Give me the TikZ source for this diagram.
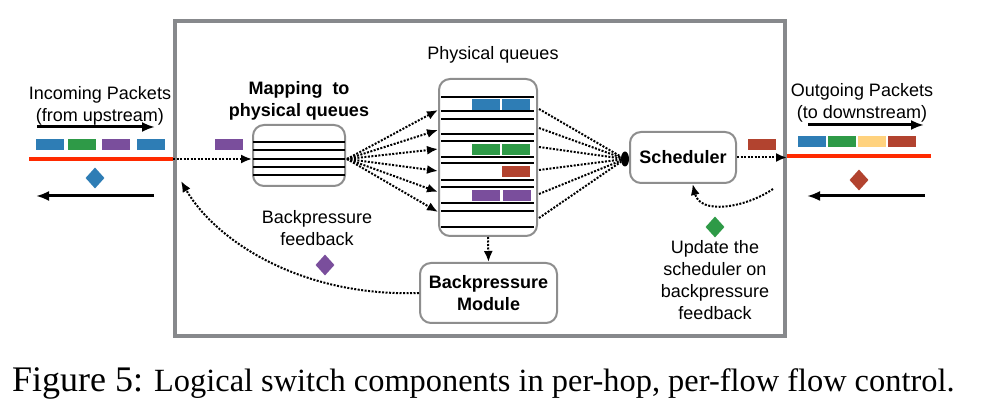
\documentclass[tikz,border=0pt]{standalone}
\usepackage{fontspec}
\setmainfont{Liberation Serif}
\setsansfont{Liberation Sans}
\usetikzlibrary{arrows.meta,shapes.geometric}

\definecolor{pktblue}{HTML}{2E7DB5}
\definecolor{pktgreen}{HTML}{2E9A47}
\definecolor{pktpurple}{HTML}{7A4E9C}
\definecolor{pktred}{HTML}{B2432F}
\definecolor{pktyellow}{HTML}{FFD27E}
\definecolor{wirered}{HTML}{FF2A00}
\definecolor{framegray}{HTML}{87898C}
\definecolor{boxgray}{HTML}{8E8E8E}

\tikzset{
  lbl/.style={font=\sffamily\fontsize{18}{22}\selectfont, align=center, inner sep=0pt},
  boldlbl/.style={lbl, font=\sffamily\bfseries\fontsize{18}{22}\selectfont},
  box/.style={draw=boxgray, line width=2pt, rounded corners=11pt, fill=white},
  pkt/.style={minimum width=28pt, minimum height=11pt, inner sep=0pt, fill=#1},
  token/.style={diamond, fill=#1, minimum width=19pt, minimum height=21pt, inner sep=0pt},
  qline/.style={line width=2.6pt},
  wire/.style={line width=3pt, -{Latex[length=13pt,width=10pt]}},
  redline/.style={line width=4pt, wirered},
  flow/.style={line width=2pt, dash pattern=on 2pt off 1.5pt, -{Latex[length=11pt,width=9pt]}},
  flowplain/.style={line width=2pt, dash pattern=on 2pt off 1.5pt}
}

\begin{document}
\begin{tikzpicture}[x=1pt,y=-1pt]
\useasboundingbox (0,0) rectangle (999,411);

% switch frame
\node (sw) [draw=framegray, line width=4pt, minimum width=610pt, minimum height=315pt, inner sep=0pt] at (480,178.5) {};

% incoming side
\node (inlbl) [lbl] at (100,106) {Incoming Packets\\(from upstream)};
\coordinate (inA) at (37,127);
\coordinate (inB) at (155,127);
\draw[wire] (inA) -- (inB);
\node (in1) [pkt=pktblue] at (50,144.5) {};
\node (in2) [pkt=pktgreen] at (82,144.5) {};
\node (in3) [pkt=pktpurple] at (116,144.5) {};
\node (in4) [pkt=pktblue] at (151,144.5) {};
\coordinate (inL) at (29,159);
\draw[redline] (inL) -- (inL -| sw.west);
\node (intok) [token=pktblue] at (95,178) {};
\coordinate (backA) at (154,196);
\coordinate (backB) at (36,196);
\draw[wire] (backA) -- (backB);

% mapping to physical queues
\node (maplbl) [boldlbl] at (299,101) {Mapping\ \ to\\physical queues};
\node (map) [box, minimum width=92pt, minimum height=61pt] at (299,155.5) {};
\foreach \y in {142,150,159,167,175}
  \draw[qline] (253,\y) -- (345,\y);
\coordinate (mapout) at (347,159);
\node (mappkt) [pkt=pktpurple] at (229,144.5) {};
\draw[flow] (sw.west |- mapout) -- (map.west |- mapout);

% physical queues
\node (pqlbl) [lbl] at (493,55) {Physical queues};
\node (pq) [box, minimum width=98pt, minimum height=157pt] at (488,157.5) {};
\foreach \y in {97,111,119,134,141,157,163,180,187,203,211,227}
  \draw[qline] (441,\y) -- (534,\y);
\node (q1a) [pkt=pktblue] at (486,105) {};
\node (q1b) [pkt=pktblue] at (516,105) {};
\node (q3a) [pkt=pktgreen] at (486,150) {};
\node (q3b) [pkt=pktgreen] at (516,150) {};
\node (q4b) [pkt=pktred] at (516,171.5) {};
\node (q5a) [pkt=pktpurple] at (486,196) {};
\node (q5b) [pkt=pktpurple] at (517,196) {};

\foreach \y [count=\i] in {110,130,149,171,192,212}
  \coordinate (qin\i) at (438,\y);
\foreach \i in {1,...,6}
  \draw[flow] (mapout) -- (qin\i);

% scheduler
\node (sched) [box, boldlbl, draw=boxgray, minimum width=106pt, minimum height=51pt] at (683,157.5) {Scheduler};
\node (conv) [ellipse, fill=black, minimum width=8pt, minimum height=15pt, inner sep=0pt] at (625,159) {};
\foreach \y [count=\i] in {109,128,147,170,194,218}
  \coordinate (qout\i) at (539,\y);
\foreach \i in {1,...,6}
  \draw[flowplain] (qout\i) -- (conv);
\node (schedpkt) [pkt=pktred] at (762,145) {};
\draw[flow] (sched.east) -- (sched.east -| sw.east);

% backpressure module
\node (bpm) [box, boldlbl, minimum width=137pt, minimum height=60pt] at (488.5,293) {Backpressure\\Module};
\draw[flow] (pq.south) -- (bpm.north);
\coordinate (fbin) at (181,181);
\draw[flow] (bpm.west) .. controls (300,297) and (215,240) .. (fbin);
\node (bplbl) [lbl] at (317,228) {Backpressure\\feedback};
\node (bptok) [token=pktpurple] at (325,265) {};

% scheduler update
\coordinate (updA) at (773,189);
\draw[flow] (updA) .. controls (745,208) and (700,215) .. (sched.290);
\node (updtok) [token=pktgreen] at (715,227) {};
\node (updlbl) [lbl] at (715,280) {Update the\\scheduler on\\backpressure\\feedback};

% outgoing side
\node (outlbl) [lbl] at (862,103) {Outgoing Packets\\(to downstream)};
\coordinate (outA) at (808,125);
\coordinate (outB) at (924,125);
\draw[wire] (outA) -- (outB);
\node (out1) [pkt=pktblue] at (812,141.5) {};
\node (out2) [pkt=pktgreen] at (842,141.5) {};
\node (out3) [pkt=pktyellow] at (872,141.5) {};
\node (out4) [pkt=pktred] at (902,141.5) {};
\coordinate (outR) at (931,156);
\draw[redline] (outR -| sw.east) -- (outR);
\node (outtok) [token=pktred] at (859,180) {};
\coordinate (oback) at (925,196);
\coordinate (obackB) at (807,196);
\draw[wire] (oback) -- (obackB);

% caption
\node (cap) [anchor=base west, inner sep=0pt, font=\rmfamily] at (12,392)
  {{\fontsize{36}{40}\selectfont Figure 5:}\hspace{11pt}{\fontsize{32.4}{40}\selectfont Logical switch components in per-hop, per-flow flow control.}};
\end{tikzpicture}
\end{document}
